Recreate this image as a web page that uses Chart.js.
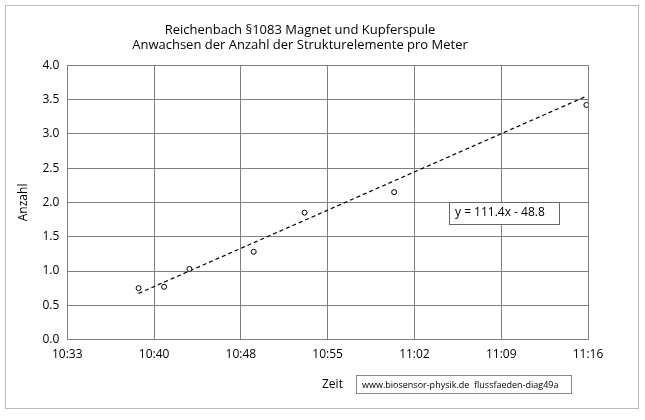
<!DOCTYPE html><html><head><script src="https://cdn.jsdelivr.net/npm/chart.js@4"></script>
<style>body{margin:0;background:#fff}#w{position:absolute;left:5px;top:5px;width:634px;height:404px;border:1px solid #bbb;box-sizing:border-box}canvas{position:absolute;left:0;top:0}</style></head><body>
<div id="w"><canvas id="c" width="632" height="402"></canvas></div>
<script>
const times=["10:39:31","10:41:38","10:43:44","10:49:04","10:53:17","11:00:43","11:16:40"];
const anzahl=[0.75,0.77,1.03,1.28,1.85,2.15,3.42];
const slope=111.4, intercept=-48.8;
const toDay=t=>{const [h,m,s]=t.split(':').map(Number);return (h*3600+m*60+s)/86400;};
const xs=times.map(toDay);
const pts=xs.map((x,i)=>({x,y:anzahl[i]}));
const trend=[xs[0],xs[xs.length-1]].map(x=>({x,y:slope*x+intercept}));
const fmt=v=>{const tot=Math.floor(v*1440+1e-6);return Math.floor(tot/60)+':'+String(tot%60).padStart(2,'0');};
const F="'Open Sans', 'DejaVu Sans', sans-serif";
const extra={id:'extra',afterDraw(ch){const c=ch.ctx;c.save();c.font='12px '+F;c.fillStyle='#000';c.textBaseline='middle';
 c.fillText('Zeit',316,379);
 c.strokeStyle='#888';c.lineWidth=1;c.strokeRect(350.5,369.5,215,18);
 c.font='9px '+F;c.fillText('www.biosensor-physik.de  flussfaeden-diag49a',356,379);
 c.fillStyle='#fff';c.fillRect(443,196,110,22);c.strokeStyle='#666';c.strokeRect(443.5,196.5,110,22);
 c.fillStyle='#000';c.font='12px '+F;c.fillText('y = 111.4x - 48.8',449,207);c.restore();}};
new Chart(document.getElementById('c'),{type:'scatter',
data:{datasets:[{data:pts,pointStyle:'circle',radius:2.5,borderColor:'#000',backgroundColor:'#fff',borderWidth:1},
{data:trend,type:'line',showLine:true,borderColor:'#000',borderWidth:1.2,borderDash:[4,3],pointRadius:0}]},
options:{responsive:false,animation:false,devicePixelRatio:1,
layout:{padding:{left:6,right:50,top:6,bottom:38}},
plugins:{legend:{display:false},tooltip:{enabled:false},
title:{display:true,text:['Reichenbach §1083 Magnet und Kupferspule','Anwachsen der Anzahl der Strukturelemente pro Meter'],color:'#000',font:{family:F,size:13,weight:'normal'},padding:{top:10,bottom:12}}},
scales:{x:{type:'linear',min:0.44,max:0.47,ticks:{stepSize:0.005,callback:v=>fmt(v),color:'#000',font:{family:F,size:12},maxRotation:0,padding:8},grid:{color:'#7f7f7f',drawTicks:false},border:{color:'#7f7f7f'}},
y:{min:0,max:4,ticks:{stepSize:0.5,callback:v=>v.toFixed(1),color:'#000',font:{family:F,size:12},padding:8},grid:{color:'#7f7f7f',drawTicks:false},border:{color:'#7f7f7f'},
title:{display:true,text:'Anzahl',color:'#000',font:{family:F,size:12}}}}},
plugins:[extra]});
</script>
</body></html>
